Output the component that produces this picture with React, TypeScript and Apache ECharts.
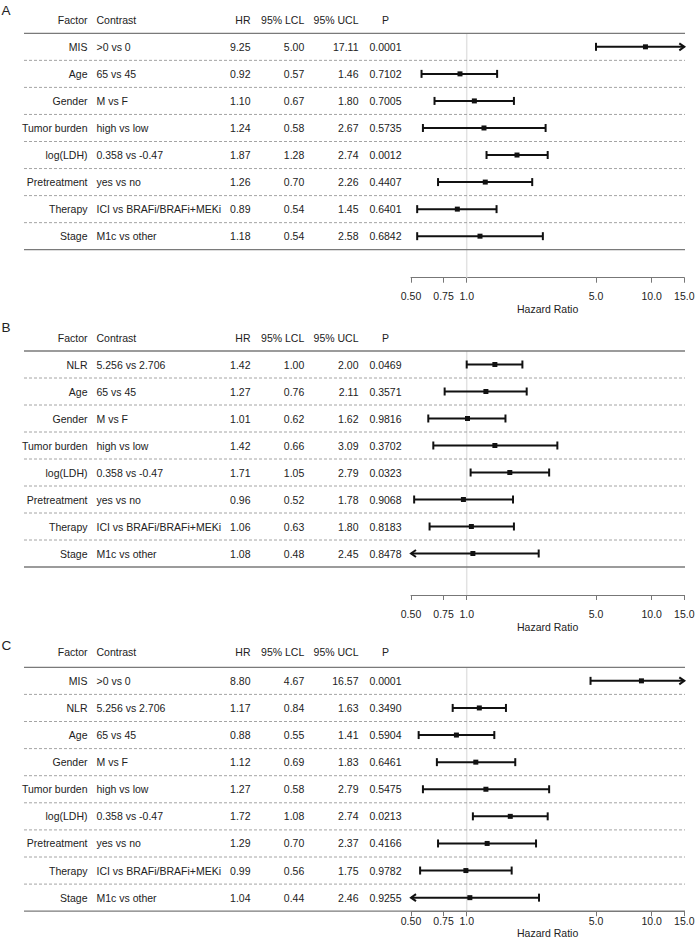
import React, { useEffect, useRef } from "react";
import * as echarts from "echarts";

const FONT = "'Liberation Sans', Arial, Helvetica, sans-serif";

// ---------- data ----------
const headers = ["Factor", "Contrast", "HR", "95% LCL", "95% UCL", "P"];
const tickValues = [0.5, 0.75, 1, 5, 10, 15];
const tickLabels = ["0.50", "0.75", "1.0", "5.0", "10.0", "15.0"];
const axisName = "Hazard Ratio";
const panelLetters = ["A", "B", "C"];

const factorsA = ["MIS", "Age", "Gender", "Tumor burden", "log(LDH)", "Pretreatment", "Therapy", "Stage"];
const contrastsA = [">0 vs 0", "65 vs 45", "M vs F", "high vs low", "0.358 vs -0.47", "yes vs no", "ICI vs BRAFi/BRAFi+MEKi", "M1c vs other"];
const hrA = [9.25, 0.92, 1.1, 1.24, 1.87, 1.26, 0.89, 1.18];
const lclA = [5.0, 0.57, 0.67, 0.58, 1.28, 0.7, 0.54, 0.54];
const uclA = [17.11, 1.46, 1.8, 2.67, 2.74, 2.26, 1.45, 2.58];
const pA = [0.0001, 0.7102, 0.7005, 0.5735, 0.0012, 0.4407, 0.6401, 0.6842];

const factorsB = ["NLR", "Age", "Gender", "Tumor burden", "log(LDH)", "Pretreatment", "Therapy", "Stage"];
const contrastsB = ["5.256 vs 2.706", "65 vs 45", "M vs F", "high vs low", "0.358 vs -0.47", "yes vs no", "ICI vs BRAFi/BRAFi+MEKi", "M1c vs other"];
const hrB = [1.42, 1.27, 1.01, 1.42, 1.71, 0.96, 1.06, 1.08];
const lclB = [1.0, 0.76, 0.62, 0.66, 1.05, 0.52, 0.63, 0.48];
const uclB = [2.0, 2.11, 1.62, 3.09, 2.79, 1.78, 1.8, 2.45];
const pB = [0.0469, 0.3571, 0.9816, 0.3702, 0.0323, 0.9068, 0.8183, 0.8478];

const factorsC = ["MIS", "NLR", "Age", "Gender", "Tumor burden", "log(LDH)", "Pretreatment", "Therapy", "Stage"];
const contrastsC = [">0 vs 0", "5.256 vs 2.706", "65 vs 45", "M vs F", "high vs low", "0.358 vs -0.47", "yes vs no", "ICI vs BRAFi/BRAFi+MEKi", "M1c vs other"];
const hrC = [8.8, 1.17, 0.88, 1.12, 1.27, 1.72, 1.29, 0.99, 1.04];
const lclC = [4.67, 0.84, 0.55, 0.69, 0.58, 1.08, 0.7, 0.56, 0.44];
const uclC = [16.57, 1.63, 1.41, 1.83, 2.79, 2.74, 2.37, 1.75, 2.46];
const pC = [0.0001, 0.349, 0.5904, 0.6461, 0.5475, 0.0213, 0.4166, 0.9782, 0.9255];

// ---------- layout ----------
const AX_MIN = 0.5;
const AX_MAX = 15;
const TEXT = "#222";
const LINE_L = 24;
const LINE_R = 685;
const COLS = [
  { x: 87.5, align: "right" },
  { x: 96.5, align: "left" },
  { x: 250.5, align: "right" },
  { x: 304.3, align: "right" },
  { x: 358.5, align: "right" },
  { x: 385.5, align: "center" },
];

const panels = [
  { letter: panelLetters[0], factors: factorsA, contrasts: contrastsA, hr: hrA, lcl: lclA, ucl: uclA, p: pA,
    top: 33.3, rowH: 27.05, axisOffset: 28, labelMargin: 13, nameGap: 26, headerGap: 13.3, letterY: 10 },
  { letter: panelLetters[1], factors: factorsB, contrasts: contrastsB, hr: hrB, lcl: lclB, ucl: uclB, p: pB,
    top: 351, rowH: 27.0, axisOffset: 28, labelMargin: 13, nameGap: 26, headerGap: 13.5, letterY: 327.5 },
  { letter: panelLetters[2], factors: factorsC, contrasts: contrastsC, hr: hrC, lcl: lclC, ucl: uclC, p: pC,
    top: 667.3, rowH: 27.1, axisOffset: 0, labelMargin: 4.5, nameGap: 15, headerGap: 15.5, letterY: 645 },
];

function txt(x: number, y: number, s: string, align: string, size = 10.5) {
  return {
    type: "text",
    style: { x, y, text: s, align, verticalAlign: "middle", fill: TEXT, fontSize: size, fontFamily: FONT },
  };
}

function buildOption() {
  const grid: any[] = [];
  const xAxis: any[] = [];
  const yAxis: any[] = [];
  const series: any[] = [];

  panels.forEach((p, k) => {
    const n = p.factors.length;
    grid.push({ left: 411, width: 273.3, top: p.top, height: n * p.rowH, containLabel: false, outerBoundsMode: "none" });
    xAxis.push({
      type: "log",
      gridIndex: k,
      logBase: 10,
      min: AX_MIN,
      max: AX_MAX,
      position: "bottom",
      offset: p.axisOffset,
      axisLine: { show: true, onZero: false, lineStyle: { color: "#777", width: 1 } },
      axisTick: { show: true, length: 5, customValues: tickValues, lineStyle: { color: "#777", width: 1 } },
      axisLabel: {
        show: true,
        customValues: tickValues,
        margin: p.labelMargin,
        color: TEXT,
        fontSize: 10.5,
        fontFamily: FONT,
        formatter: (v: number) => {
          const idx = tickValues.findIndex((t) => Math.abs(t - v) < 1e-6);
          return idx >= 0 ? tickLabels[idx] : "";
        },
      },
      minorTick: { show: false },
      splitLine: { show: false },
      name: axisName,
      nameLocation: "middle",
      nameGap: p.nameGap,
      nameTextStyle: { color: TEXT, fontSize: 10.5, fontFamily: FONT },
    });
    yAxis.push({ type: "value", gridIndex: k, min: -0.5, max: n - 0.5, inverse: true, show: false });

    // frame: header, solid lines, reference line, panel letter
    series.push({
      type: "custom",
      xAxisIndex: k,
      yAxisIndex: k,
      clip: false,
      silent: true,
      z: 1,
      data: [[1, 0]],
      encode: { x: 0, y: 1 },
      renderItem: (_params: any, api: any) => {
        const topY = api.coord([1, -0.5])[1];
        const botY = api.coord([1, n - 0.5])[1];
        const refX = api.coord([1, 0])[0];
        const hy = topY - p.headerGap;
        const children: any[] = [
          { type: "line", shape: { x1: refX, y1: topY, x2: refX, y2: botY + p.axisOffset }, style: { stroke: "#e2e2e2", lineWidth: 1.5 } },
          { type: "line", shape: { x1: LINE_L, y1: topY, x2: LINE_R, y2: topY }, style: { stroke: "#7a7a7a", lineWidth: 1.3 } },
          { type: "line", shape: { x1: LINE_L, y1: botY, x2: LINE_R, y2: botY }, style: { stroke: "#7a7a7a", lineWidth: 1.3 } },
          { type: "text", style: { x: 1.5, y: p.letterY, text: p.letter, align: "left", verticalAlign: "middle", fill: TEXT, fontSize: 13.5, fontFamily: FONT } },
        ];
        headers.forEach((h, c) => children.push(txt(COLS[c].x, hy, h, COLS[c].align)));
        return { type: "group", children };
      },
    });

    // rows
    series.push({
      type: "custom",
      xAxisIndex: k,
      yAxisIndex: k,
      clip: false,
      silent: true,
      z: 2,
      data: p.hr.map((h, i) => [h, i, p.lcl[i], p.ucl[i]]),
      encode: { x: 0, y: 1 },
      renderItem: (params: any, api: any) => {
        const i = params.dataIndex;
        const hr = api.value(0);
        const lo = api.value(2);
        const hi = api.value(3);
        const y = api.coord([1, i])[1];
        const ySep = api.coord([1, i + 0.5])[1];
        const xl = api.coord([Math.max(lo, AX_MIN), i])[0];
        const xh = api.coord([Math.min(hi, AX_MAX), i])[0];
        const xc = api.coord([hr, i])[0];
        const stroke = "#111";
        const children: any[] = [];
        if (i < n - 1) {
          children.push({
            type: "line",
            shape: { x1: LINE_L, y1: ySep, x2: LINE_R, y2: ySep },
            style: { stroke: "#9a9a9a", lineWidth: 0.9, lineDash: [3, 2] },
          });
        }
        const vals = [p.factors[i], p.contrasts[i], p.hr[i].toFixed(2), p.lcl[i].toFixed(2), p.ucl[i].toFixed(2), p.p[i].toFixed(4)];
        vals.forEach((v, c) => children.push(txt(COLS[c].x, y, v, COLS[c].align)));
        children.push({ type: "line", shape: { x1: xl, y1: y, x2: xh, y2: y }, style: { stroke, lineWidth: 2 } });
        if (lo < AX_MIN) {
          children.push({ type: "polyline", shape: { points: [[xl + 5, y - 3.5], [xl, y], [xl + 5, y + 3.5]] }, style: { stroke, lineWidth: 2, fill: "none" } });
        } else {
          children.push({ type: "line", shape: { x1: xl, y1: y - 4, x2: xl, y2: y + 4 }, style: { stroke, lineWidth: 2 } });
        }
        if (hi > AX_MAX) {
          children.push({ type: "polyline", shape: { points: [[xh - 5, y - 3.5], [xh, y], [xh - 5, y + 3.5]] }, style: { stroke, lineWidth: 2, fill: "none" } });
        } else {
          children.push({ type: "line", shape: { x1: xh, y1: y - 4, x2: xh, y2: y + 4 }, style: { stroke, lineWidth: 2 } });
        }
        children.push({ type: "rect", shape: { x: xc - 2.5, y: y - 2.5, width: 5, height: 5 }, style: { fill: stroke } });
        return { type: "group", children };
      },
    });
  });

  return {
    animation: false,
    backgroundColor: "#fff",
    textStyle: { fontFamily: FONT },
    grid,
    xAxis,
    yAxis,
    series,
  };
}

export default function App() {
  const ref = useRef<HTMLDivElement>(null);
  useEffect(() => {
    document.body.style.margin = "0";
    const chart = echarts.init(ref.current as HTMLDivElement, null, { renderer: "svg" });
    chart.setOption(buildOption() as any);
    return () => chart.dispose();
  }, []);
  return <div ref={ref} style={{ width: 695, height: 948, position: "absolute", left: 0, top: 0 }} />;
}
